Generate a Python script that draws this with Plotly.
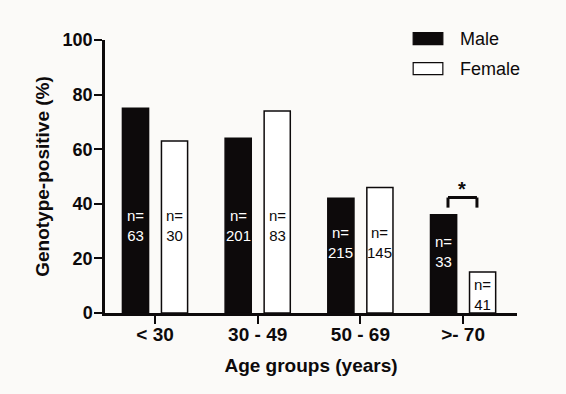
import plotly.graph_objects as go

categories = ["< 30", "30 - 49", "50 - 69", ">- 70"]
male_pct = [75, 64, 42, 36]
female_pct = [63, 74, 46, 15]
male_n = [63, 201, 215, 33]
female_n = [30, 83, 145, 41]

# layout helpers (not data)
label_y_male = [32, 32, 25.7, 22.4]
label_y_female = [32, 32, 25.7, 6.6]
bar_offset = 0.19
FONT = "Arial, Liberation Sans, sans-serif"
INK = "#0d0a0b"
BG = "#fbfaf8"

fig = go.Figure()
fig.add_trace(go.Bar(x=categories, y=male_pct, name="Male",
                     marker=dict(color=INK, line=dict(color=INK, width=1.5)),
                     showlegend=False))
fig.add_trace(go.Bar(x=categories, y=female_pct, name="Female",
                     marker=dict(color="white", line=dict(color=INK, width=1.5)),
                     showlegend=False))

annotations = []
for i in range(len(categories)):
    annotations.append(dict(x=i - bar_offset, y=label_y_male[i], xref="x", yref="y",
                            text=f"n=<br>{male_n[i]}", showarrow=False,
                            font=dict(family=FONT, size=15, color="white"),
                            yanchor="middle", xanchor="center"))
    annotations.append(dict(x=i + bar_offset, y=label_y_female[i], xref="x", yref="y",
                            text=f"n=<br>{female_n[i]}", showarrow=False,
                            font=dict(family=FONT, size=15, color=INK),
                            yanchor="middle", xanchor="center"))

# significance marker over last group
sig_i = 3
bx0, bx1 = sig_i - 0.147, sig_i + 0.135
by_top, by_leg = 42.3, 38.6
shapes = [
    dict(type="line", xref="x", yref="y", x0=bx0, x1=bx1, y0=by_top, y1=by_top,
         line=dict(color=INK, width=3)),
    dict(type="line", xref="x", yref="y", x0=bx0, x1=bx0, y0=by_top, y1=by_leg,
         line=dict(color=INK, width=3)),
    dict(type="line", xref="x", yref="y", x0=bx1, x1=bx1, y0=by_top, y1=by_leg,
         line=dict(color=INK, width=3)),
]
annotations.append(dict(x=(bx0 + bx1) / 2, y=45.3, xref="x", yref="y", text="<b>*</b>",
                        showarrow=False, font=dict(family=FONT, size=20, color=INK),
                        yanchor="middle"))

# manual legend (paper coords)
legend_items = [("Male", INK), ("Female", "white")]
for k, (lab, col) in enumerate(legend_items):
    y_c = 1.0 - k * 0.11 + 0.005
    shapes.append(dict(type="rect", xref="paper", yref="paper",
                       x0=0.748, x1=0.820, y0=y_c - 0.022, y1=y_c + 0.022,
                       fillcolor=col, line=dict(color=INK, width=1.2)))
    annotations.append(dict(x=0.858, y=y_c, xref="paper", yref="paper", text=lab,
                            showarrow=False, xanchor="left", yanchor="middle",
                            font=dict(family=FONT, size=18, color=INK)))

fig.update_layout(
    width=566, height=394,
    margin=dict(l=105, r=49, t=40, b=81),
    paper_bgcolor=BG, plot_bgcolor=BG,
    barmode="group", bargap=0.24, bargroupgap=0.33,
    shapes=shapes, annotations=annotations,
    font=dict(family=FONT, color=INK),
    xaxis=dict(range=[-0.487, 3.525], showline=True, linecolor=INK, linewidth=2.5,
               ticks="outside", ticklen=8, tickwidth=2, tickcolor=INK,
               ticklabelstandoff=-6,
               tickfont=dict(family=FONT, size=19, color=INK, weight="bold"),
               title=dict(text="<b>Age groups (years)</b>", standoff=16,
                          font=dict(family=FONT, size=19, color=INK)),
               showgrid=False, zeroline=False),
    yaxis=dict(range=[0, 100], tickvals=[0, 20, 40, 60, 80, 100],
               showline=True, linecolor=INK, linewidth=2.5,
               ticks="outside", ticklen=8, tickwidth=2, tickcolor=INK,
               ticklabelstandoff=-2,
               tickfont=dict(family=FONT, size=18, color=INK, weight="bold"),
               title=dict(text="<b>Genotype-positive (%)</b>", standoff=8,
                          font=dict(family=FONT, size=19, color=INK)),
               showgrid=False, zeroline=False),
)

fig.write_html("out.html")
